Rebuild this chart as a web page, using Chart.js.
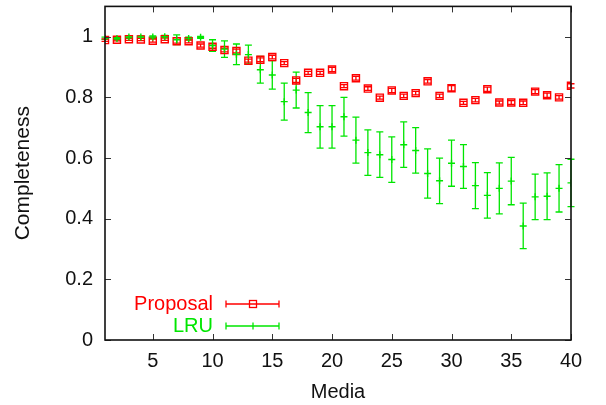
<!DOCTYPE html>
<html>
<head>
<meta charset="utf-8">
<script src="https://cdn.jsdelivr.net/npm/chart.js@4/dist/chart.umd.min.js"></script>
<style>
  html, body { margin: 0; padding: 0; background: #fff; }
  canvas { display: block; }
</style>
</head>
<body>
<canvas id="chart" width="606" height="405"></canvas>
<script>
const media = [1, 2, 3, 4, 5, 6, 7, 8, 9, 10, 11, 12, 13, 14, 15, 16, 17, 18, 19, 20,
  21, 22, 23, 24, 25, 26, 27, 28, 29, 30, 31, 32, 33, 34, 35, 36, 37, 38, 39, 40];

const proposal = [0.989, 0.990, 0.992, 0.991, 0.987, 0.992, 0.985, 0.985, 0.971, 0.967,
  0.956, 0.953, 0.921, 0.924, 0.933, 0.913, 0.856, 0.881, 0.881, 0.892,
  0.837, 0.863, 0.829, 0.799, 0.823, 0.805, 0.814, 0.853, 0.805, 0.830,
  0.782, 0.791, 0.827, 0.783, 0.783, 0.782, 0.819, 0.807, 0.800, 0.838];
const proposalErr = [0.004, 0.004, 0.004, 0.004, 0.005, 0.004, 0.006, 0.005, 0.005, 0.005,
  0.006, 0.006, 0.005, 0.006, 0.006, 0.005, 0.007, 0.005, 0.005, 0.007,
  0.005, 0.006, 0.006, 0.005, 0.007, 0.006, 0.006, 0.006, 0.006, 0.009,
  0.005, 0.006, 0.007, 0.005, 0.006, 0.006, 0.007, 0.007, 0.006, 0.007];

const lru = [0.995, 0.994, 0.999, 0.999, 0.999, 1.000, 0.990, 0.994, 0.998, 0.971,
  0.959, 0.942, 0.941, 0.891, 0.874, 0.786, 0.824, 0.750, 0.703, 0.703,
  0.736, 0.659, 0.618, 0.611, 0.595, 0.644, 0.625, 0.549, 0.525, 0.583,
  0.572, 0.509, 0.477, 0.500, 0.524, 0.376, 0.472, 0.474, 0.500, 0.518];
const lruErr = [0.004, 0.004, 0.004, 0.004, 0.004, 0.004, 0.016, 0.005, 0.003, 0.019,
  0.027, 0.034, 0.031, 0.044, 0.047, 0.061, 0.059, 0.066, 0.070, 0.070,
  0.064, 0.076, 0.075, 0.075, 0.075, 0.075, 0.075, 0.081, 0.075, 0.076,
  0.072, 0.076, 0.075, 0.084, 0.078, 0.075, 0.075, 0.077, 0.078, 0.078];

const xTicks = [5, 10, 15, 20, 25, 30, 35, 40];
const yTicks = [0, 0.2, 0.4, 0.6, 0.8, 1];

const RED = '#ff0000';
const GREEN = '#00e600';
const FONT = '"Liberation Sans", Arial, sans-serif';

function points(ys, errs) {
  return media.map((x, i) => ({ x: x, y: ys[i], err: errs[i] }));
}

// vertical error bars with small caps, read from each point's err
const errorBars = {
  id: 'errorBars',
  beforeDatasetsDraw(chart) {
    const ctx = chart.ctx;
    const xs = chart.scales.x, ys = chart.scales.y;
    chart.data.datasets.forEach((ds) => {
      ctx.save();
      ctx.strokeStyle = ds.borderColor;
      ctx.lineWidth = 1.3;
      ds.data.forEach((p) => {
        const px = xs.getPixelForValue(p.x);
        const lo = ys.getPixelForValue(p.y - p.err);
        const hi = ys.getPixelForValue(p.y + p.err);
        ctx.beginPath();
        ctx.moveTo(px, lo); ctx.lineTo(px, hi);
        ctx.moveTo(px - 3.5, lo); ctx.lineTo(px + 3.5, lo);
        ctx.moveTo(px - 3.5, hi); ctx.lineTo(px + 3.5, hi);
        ctx.stroke();
      });
      ctx.restore();
    });
  }
};

// box border with inward ticks mirrored on all four sides
const frame = {
  id: 'frame',
  afterDraw(chart) {
    const ctx = chart.ctx;
    const a = chart.chartArea;
    const xs = chart.scales.x, ys = chart.scales.y;
    const len = 6;
    ctx.save();
    ctx.strokeStyle = '#333';
    ctx.lineWidth = 1;
    ctx.beginPath();
    xTicks.forEach((v) => {
      const px = Math.round(xs.getPixelForValue(v)) + 0.5;
      ctx.moveTo(px, a.bottom); ctx.lineTo(px, a.bottom - len);
      ctx.moveTo(px, a.top); ctx.lineTo(px, a.top + len);
    });
    yTicks.forEach((v) => {
      const py = Math.round(ys.getPixelForValue(v)) + 0.5;
      ctx.moveTo(a.left, py); ctx.lineTo(a.left + len, py);
      ctx.moveTo(a.right, py); ctx.lineTo(a.right - len, py);
    });
    ctx.stroke();
    ctx.strokeStyle = '#111';
    ctx.lineWidth = 1.6;
    ctx.strokeRect(a.left, a.top, a.right - a.left, a.bottom - a.top);
    ctx.restore();
  }
};

// key in the lower left corner: label, line with caps, marker
const key = {
  id: 'key',
  afterDraw(chart) {
    const ctx = chart.ctx;
    const rows = [
      { text: 'Proposal', color: RED, y: 304, marker: 'rect' },
      { text: 'LRU', color: GREEN, y: 326, marker: 'cross' }
    ];
    ctx.save();
    ctx.font = '20px ' + FONT;
    ctx.textAlign = 'right';
    ctx.textBaseline = 'middle';
    rows.forEach((r) => {
      ctx.fillStyle = r.color;
      ctx.fillText(r.text, 213, r.y);
      ctx.strokeStyle = r.color;
      ctx.lineWidth = 1.3;
      ctx.beginPath();
      ctx.moveTo(226, r.y); ctx.lineTo(279, r.y);
      ctx.moveTo(226, r.y - 3.5); ctx.lineTo(226, r.y + 3.5);
      ctx.moveTo(279, r.y - 3.5); ctx.lineTo(279, r.y + 3.5);
      ctx.stroke();
      if (r.marker === 'rect') {
        ctx.strokeRect(249.5, r.y - 3.5, 7, 7);
      } else {
        ctx.beginPath();
        ctx.moveTo(253, r.y - 3.5); ctx.lineTo(253, r.y + 3.5);
        ctx.stroke();
      }
    });
    ctx.restore();
  }
};

new Chart(document.getElementById('chart'), {
  type: 'scatter',
  data: {
    datasets: [
      {
        label: 'LRU',
        data: points(lru, lruErr),
        borderColor: GREEN,
        backgroundColor: GREEN,
        pointStyle: 'cross',
        pointRadius: 3.5,
        borderWidth: 1.4
      },
      {
        label: 'Proposal',
        data: points(proposal, proposalErr),
        borderColor: RED,
        backgroundColor: 'rgba(255,255,255,0)',
        pointStyle: 'rect',
        pointRadius: 5,
        borderWidth: 1.4
      }
    ]
  },
  options: {
    responsive: false,
    animation: false,
    layout: { padding: { top: 4, right: 35, left: 0, bottom: 0 } },
    plugins: {
      legend: { display: false },
      tooltip: { enabled: false }
    },
    scales: {
      x: {
        type: 'linear',
        min: 1,
        max: 40,
        afterBuildTicks: (s) => { s.ticks = xTicks.map((v) => ({ value: v })); },
        afterFit: (s) => { s.height = 65; s.paddingLeft = 0; s.paddingRight = 0; },
        grid: { display: false, drawTicks: false },
        border: { display: false },
        ticks: { padding: 9, color: '#111', font: { family: FONT, size: 20 } },
        title: {
          display: true,
          text: 'Media',
          color: '#111',
          font: { family: FONT, size: 20 },
          padding: { top: 0, bottom: 1 }
        }
      },
      y: {
        min: 0,
        max: 1.1,
        afterBuildTicks: (s) => { s.ticks = yTicks.map((v) => ({ value: v })); },
        afterFit: (s) => { s.width = 105; s.paddingTop = 0; s.paddingBottom = 0; },
        grid: { display: false, drawTicks: false },
        border: { display: false },
        ticks: {
          padding: 12,
          color: '#111',
          font: { family: FONT, size: 20 },
          callback: (v) => String(v)
        },
        title: {
          display: true,
          text: 'Completeness',
          color: '#111',
          font: { family: FONT, size: 21 },
          padding: { top: 11, bottom: 0 }
        }
      }
    }
  },
  plugins: [errorBars, frame, key]
});
</script>
</body>
</html>
